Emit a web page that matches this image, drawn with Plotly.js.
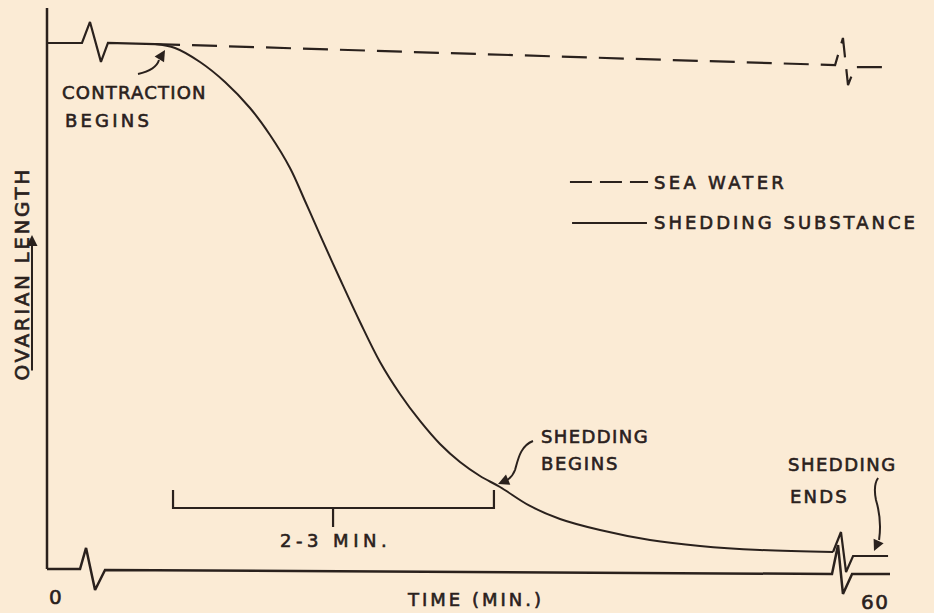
<!DOCTYPE html>
<html>
<head>
<meta charset="utf-8">
<script src="https://cdn.plot.ly/plotly-3.0.1.min.js"></script>
<style>
  html, body { margin: 0; padding: 0; background: #fbebd5; }
  #chart { width: 934px; height: 613px; }
</style>
</head>
<body>
<div id="chart"></div>
<script>
// ---- data (time in minutes, ovarian length in arbitrary units; 100 = initial length) ----
// Shedding substance: initial plateau with axis-break squiggle
const shedStartT   = [0, 2.49, 3.06, 3.84, 4.34, 7.69];
const shedStartLen = [100, 100, 104.0, 96.4, 100, 99.8];
// Shedding substance: contraction curve
const shedCurveT   = [7.687, 9.110, 10.890, 12.669, 14.448, 15.872, 17.295, 18.363, 19.431, 20.854, 22.278, 23.701, 25.125, 26.548, 27.972, 29.395, 30.819, 32.242, 34.377, 36.512, 39.359, 42.918, 46.477, 50.747, 55.943];
const shedCurveLen = [99.81, 99.05, 96.39, 92.59, 87.64, 82.51, 76.24, 69.96, 63.50, 55.13, 46.96, 39.35, 33.27, 28.14, 23.76, 20.34, 17.68, 15.59, 11.98, 9.51, 7.41, 5.51, 4.37, 3.61, 3.23];
// Shedding substance: break squiggle near 60 min
const shedEndT   = [55.943, 56.51, 56.87, 57.37, 59.86];
const shedEndLen = [3.23, 7.03, -0.57, 2.47, 2.47];
// Sea water control (dashed)
const seaT   = [7.69, 56.09, 56.65, 57.01, 57.51, 60.0];
const seaLen = [99.8, 95.8, 100.95, 92.0, 95.4, 95.4];
// Time axis with break marks
const axisT   = [0, 2.35, 2.78, 3.42, 4.13, 55.87, 56.30, 56.65, 57.30, 60.0];
const axisLen = [0, 0, 4.0, -4.0, -0.2, -0.95, 4.56, -4.75, -0.95, -0.95];
// Length axis
const lenAxisT   = [0, 0];
const lenAxisLen = [106.65, 0];
// "2-3 MIN." bracket
const bracketT   = [8.97, 8.97, 31.81, 31.81];
const bracketLen = [15.02, 11.60, 11.60, 15.02];
const bracketTickT   = [20.36, 20.36];
const bracketTickLen = [11.60, 7.98];
// Legend samples
const legendDashT   = [37.22, 42.78];
const legendDashLen = [73.57, 73.57];
const legendSolidT   = [37.37, 42.70];
const legendSolidLen = [65.78, 65.78];
// Tick labels
const tickVals   = [0, 60];
const tickLabels = ['0', '60'];

const INK = '#2a211d';
const BG = '#fbebd5';
const FONT = 'DejaVu Sans';

function line(x, y, opts) {
  return Object.assign({
    x: x, y: y, type: 'scatter', mode: 'lines', hoverinfo: 'skip', showlegend: false,
    line: { color: INK, width: 2 }
  }, opts || {});
}

const traces = [
  line(lenAxisT, lenAxisLen, { line: { color: INK, width: 2.5 } }),
  line(axisT, axisLen, { line: { color: INK, width: 2.5 } }),
  line(seaT, seaLen, { line: { color: INK, width: 2.2, dash: '25px,12px' } }),
  line(shedStartT, shedStartLen, { line: { color: INK, width: 2.2 } }),
  line(shedCurveT, shedCurveLen, { line: { color: INK, width: 2, shape: 'spline', smoothing: 1 } }),
  line(shedEndT, shedEndLen, { line: { color: INK, width: 2.2 } }),
  line(bracketT, bracketLen, { line: { color: INK, width: 2.2 } }),
  line(bracketTickT, bracketTickLen, { line: { color: INK, width: 2.2 } }),
  line(legendDashT, legendDashLen, { line: { color: INK, width: 2, dash: '22px,8px' } }),
  line(legendSolidT, legendSolidLen, { line: { color: INK, width: 2 } })
];

function label(text, x, y, size, ls, extra) {
  return Object.assign({
    text: text, x: x, y: y, xref: 'x', yref: 'y', showarrow: false,
    xanchor: 'left', yanchor: 'middle', align: 'left',
    font: { family: FONT, size: size, color: INK }, _ls: ls
  }, extra || {});
}
function arrow(x, y, ax, ay) {
  return {
    text: '', x: x, y: y, ax: ax, ay: ay, xref: 'x', yref: 'y', axref: 'x', ayref: 'y',
    showarrow: true, arrowhead: 2, arrowsize: 1.1, arrowwidth: 2, arrowcolor: INK, standoff: 0, _ls: 0
  };
}

const annotations = [
  label('CONTRACTION', 0.925, 90.68, 18, 1.2),
  label('BEGINS', 1.139, 85.17, 18, 3.2),
  label('SEA WATER', 43.06, 73.57, 18, 3.3),
  label('SHEDDING SUBSTANCE', 43.06, 65.78, 18, 3.0),
  label('SHEDDING', 35.02, 25.10, 18, 1.4),
  label('BEGINS', 35.02, 20.15, 18, 1.7),
  label('SHEDDING', 52.60, 19.96, 18, 1.5),
  label('ENDS', 52.74, 13.69, 18, 2.2),
  label('2-3 MIN.', 16.44, 5.51, 18, 4.5),
  label('TIME (MIN.)', 25.48, -5.89, 18, 3.0),
  label(tickLabels[0], tickVals[0] + 0.569 - 0.55, -5.32, 20, 0),
  label(tickLabels[1], tickVals[1] - 1.07 - 1.15, -6.27, 20, 1.5),
  label('OVARIAN LENGTH', -1.85, 35.36, 20, 2.6, { textangle: -90, xanchor: 'center', yanchor: 'bottom' }),
  arrow(8.399, 98.67, 7.972, 96.77),
  arrow(32.10, 16.16, 32.60, 16.73),
  arrow(58.86, 3.42, 59.22, 5.51),
  arrow(-1.068, 63.50, -1.068, 37.45)
];

const shapes = [
  { type: 'path', xref: 'x', yref: 'y', path: 'M 6.477 94.11 Q 7.758 94.87 7.972 96.77', line: { color: INK, width: 2 } },
  { type: 'path', xref: 'x', yref: 'y', path: 'M 34.59 24.33 C 33.67 23.38 33.52 20.72 33.31 18.82 Q 33.10 17.30 32.60 16.73', line: { color: INK, width: 2 } },
  { type: 'path', xref: 'x', yref: 'y', path: 'M 59.15 17.30 Q 58.79 15.97 59.00 13.12 Q 59.43 9.32 59.22 5.51', line: { color: INK, width: 2 } }
];

const layout = {
  width: 934, height: 613,
  margin: { l: 0, r: 0, t: 0, b: 0 },
  paper_bgcolor: BG, plot_bgcolor: BG,
  xaxis: { range: [-3.345, 63.13], visible: false, fixedrange: true },
  yaxis: { range: [-8.365, 108.17], visible: false, fixedrange: true },
  showlegend: false,
  annotations: annotations.map(a => { const c = Object.assign({}, a); delete c._ls; return c; }),
  shapes: shapes
};

Plotly.newPlot('chart', traces, layout, { staticPlot: true, displayModeBar: false }).then(gd => {
  gd.querySelectorAll('g.annotation').forEach(g => {
    const i = parseInt(g.getAttribute('data-index'), 10);
    const ls = annotations[i] ? annotations[i]._ls : 0;
    g.querySelectorAll('text.annotation-text').forEach(t => {
      if (ls) t.style.letterSpacing = ls + 'px';
      t.style.stroke = INK;
      t.style.strokeWidth = '0.6px';
    });
  });
});
</script>
</body>
</html>
